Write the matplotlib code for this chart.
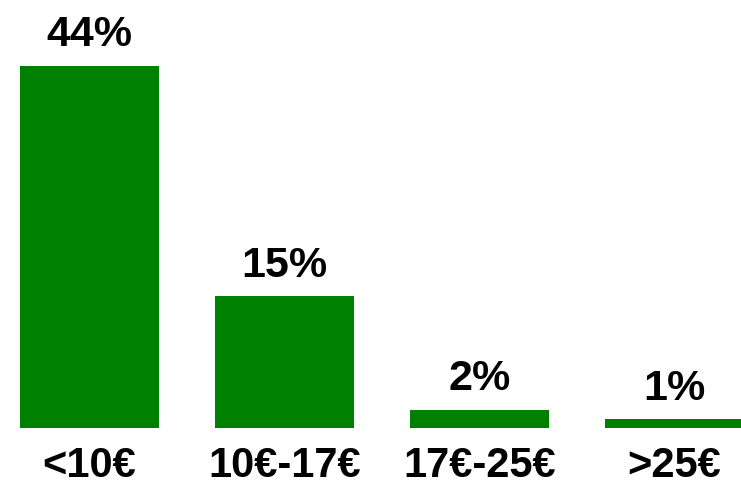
import matplotlib
matplotlib.use("Agg")
import matplotlib.pyplot as plt

# price buckets and share of answers
categories = ["<10€", "10€-17€", "17€-25€", ">25€"]
heights = [44, 16, 2.2, 1.1]          # bar heights
value_labels = ["44%", "15%", "2%", "1%"]

plt.rcParams["font.family"] = ["Liberation Sans", "DejaVu Sans"]

W, H = 741, 486
fig = plt.figure(figsize=(W / 100, H / 100), dpi=100)
ax = fig.add_axes([0, 58 / H, 1, 428 / H])

x = list(range(len(categories)))
bars = ax.bar(x, heights, width=0.713, color="#008000")

for b, lab in zip(bars, value_labels):
    ax.annotate(lab, (b.get_x() + b.get_width() / 2, b.get_height()),
                xytext=(0, 14), textcoords="offset points",
                ha="center", va="baseline", fontsize=31, fontweight="bold")

ax.set_xlim(-0.459, 3.341)
ax.set_ylim(0, 52.0)
ax.set_xticks(x)
ax.set_xticklabels(categories, fontsize=30, fontweight="bold")
ax.tick_params(axis="x", length=0, pad=13)
ax.set_yticks([])
for s in ax.spines.values():
    s.set_visible(False)

fig.savefig("out.png", dpi=100)
